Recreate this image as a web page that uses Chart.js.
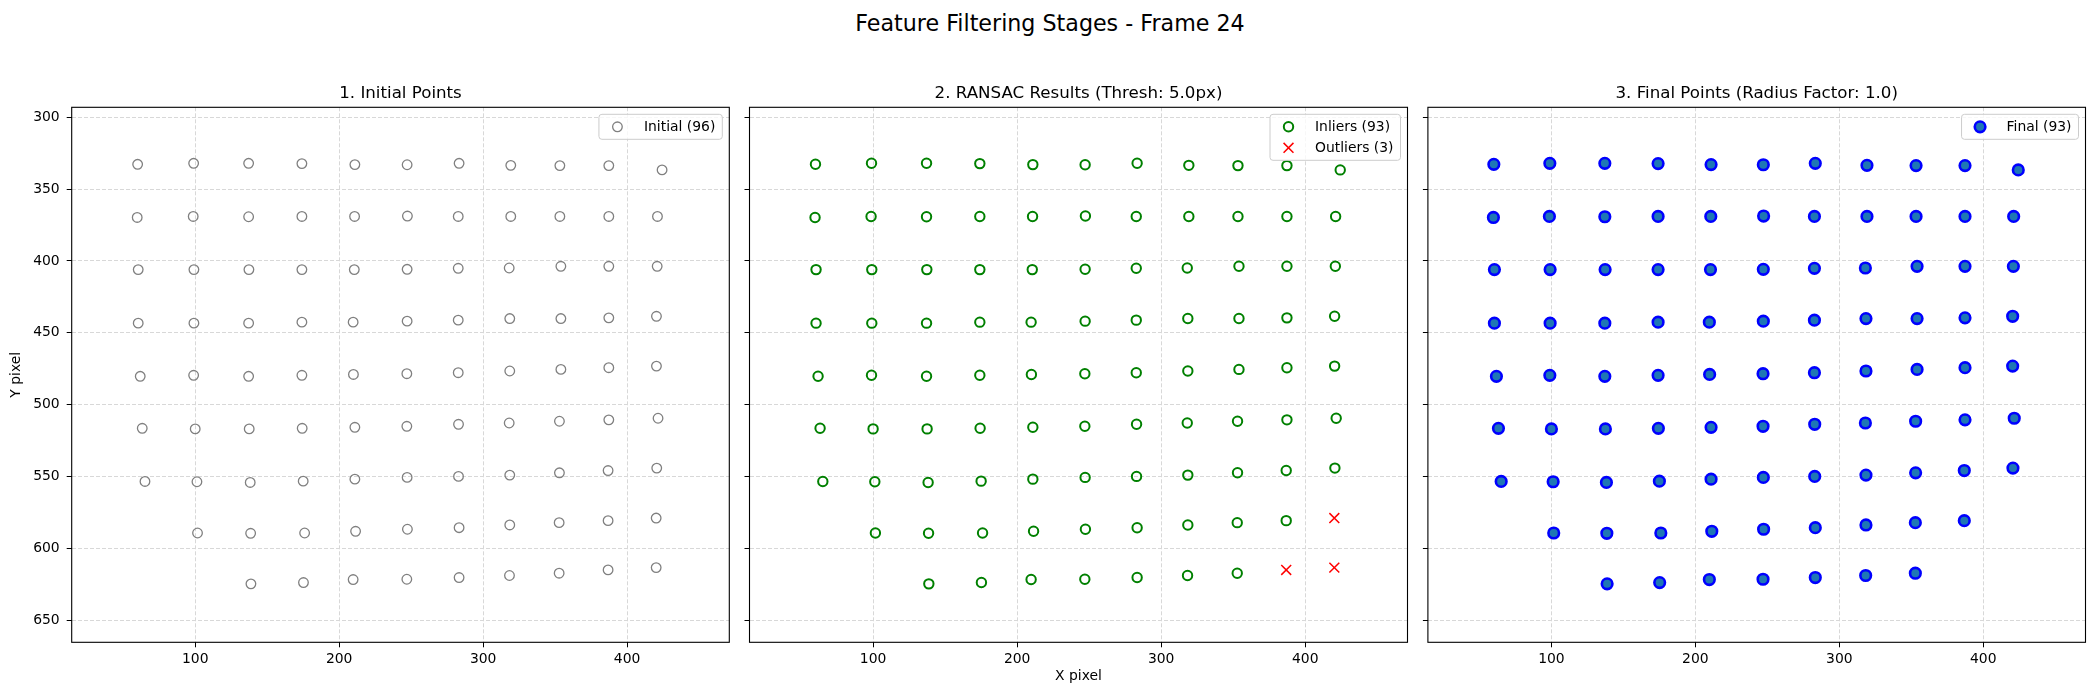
<!DOCTYPE html>
<html><head><meta charset="utf-8">
<script src="https://cdn.jsdelivr.net/npm/chart.js@4.4.0/dist/chart.umd.min.js"></script>
<style>
html,body{margin:0;padding:0;background:#fff;}
#wrap{position:relative;width:2100px;height:700px;overflow:hidden;font-family:'DejaVu Sans',sans-serif;background:#fff;}
canvas{position:absolute;top:0;}
#sup{position:absolute;left:0;width:2100px;top:10px;text-align:center;font-size:22.2px;line-height:26px;color:#000;}
</style></head><body>
<div id="wrap">
<div id="sup">Feature Filtering Stages - Frame 24</div>
<canvas id="c1" width="740" height="700" style="left:0px"></canvas>
<canvas id="c2" width="680" height="700" style="left:740px"></canvas>
<canvas id="c3" width="680" height="700" style="left:1420px"></canvas>
</div>
<script>
// ---------------- DATA ----------------
const suptitleText = 'Feature Filtering Stages - Frame 24';
const panelTitles = ['1. Initial Points', '2. RANSAC Results (Thresh: 5.0px)', '3. Final Points (Radius Factor: 1.0)'];
const xTickValues = [100, 200, 300, 400];
const yTickValues = [300, 350, 400, 450, 500, 550, 600, 650];
const xRange = [14.2, 471];
const yRange = [293, 665.5];

const initialX = [
  60.0, 98.9, 137.1, 174.1, 210.9, 247.2, 283.3, 319.2, 353.3, 387.3, 424.3,
  59.7, 98.6, 137.1, 174.1, 210.7, 247.4, 282.7, 319.2, 353.3, 387.3, 421.1,
  60.4, 99.1, 137.3, 174.1, 210.5, 247.2, 282.7, 318.1, 354.0, 387.3, 420.9,
  60.4, 99.1, 137.1, 174.1, 209.7, 247.2, 282.7, 318.5, 354.0, 387.3, 420.4,
  61.8, 98.9, 137.1, 174.1, 209.9, 247.0, 282.7, 318.5, 354.0, 387.3, 420.4,
  63.2, 100.0, 137.5, 174.3, 210.9, 247.0, 282.9, 318.1, 353.0, 387.3, 421.5,
  65.1, 101.2, 138.2, 175.0, 210.9, 247.2, 282.9, 318.5, 353.0, 386.8, 420.6,
  101.6, 138.5, 176.0, 211.4, 247.4, 283.3, 318.5, 352.8, 386.8, 420.2,
  138.7, 175.2, 209.7, 247.0, 283.3, 318.3, 352.8, 386.8, 420.2
];
const initialY = [
  332.7, 332.0, 332.0, 332.2, 332.9, 333.0, 332.0, 333.4, 333.6, 333.6, 336.6,
  369.7, 369.0, 369.2, 369.0, 369.0, 368.7, 369.0, 369.0, 369.0, 369.0, 369.0,
  406.0, 406.0, 406.0, 406.0, 406.0, 405.8, 405.1, 404.9, 403.7, 403.7, 403.7,
  443.3, 443.3, 443.3, 442.6, 442.6, 441.9, 441.2, 440.1, 440.1, 439.6, 438.5,
  480.3, 479.6, 480.3, 479.6, 479.0, 478.5, 477.8, 476.6, 475.5, 474.3, 473.2,
  516.5, 516.9, 516.9, 516.5, 515.8, 515.1, 513.7, 512.8, 511.6, 510.6, 509.5,
  553.5, 553.7, 554.2, 553.3, 551.9, 550.7, 550.0, 549.1, 547.5, 545.9, 544.2,
  589.4, 589.6, 589.4, 588.2, 586.8, 585.7, 583.8, 582.2, 580.8, 579.0,
  624.8, 623.9, 621.8, 621.6, 620.4, 619.0, 617.4, 615.1, 613.5
];
const outlierX = [420.2, 386.8, 420.2];
const outlierY = [579.0, 615.1, 613.5];

// ---------------- DERIVED ----------------
const FONT = "'DejaVu Sans', sans-serif";
const toPts = (xs, ys) => xs.map((x, i) => ({x: x, y: ys[i]}));
const isOutlier = (x, y) => outlierX.some((ox, k) => ox === x && outlierY[k] === y);
const keepIdx = initialX.map((x, i) => i).filter(i => !isOutlier(initialX[i], initialY[i]));
const inlierX = keepIdx.map(i => initialX[i]);
const inlierY = keepIdx.map(i => initialY[i]);
const finalX = inlierX.slice();
const finalY = inlierY.slice();

document.getElementById('sup').textContent = suptitleText;

// ---------------- PLUGINS ----------------
function drawMarker(ctx, style, r, bw, fill, stroke, x, y) {
  ctx.save();
  ctx.lineWidth = bw;
  ctx.strokeStyle = stroke;
  ctx.fillStyle = fill;
  ctx.beginPath();
  if (style === 'crossRot') {
    const d = r * Math.SQRT1_2;
    ctx.moveTo(x - d, y - d); ctx.lineTo(x + d, y + d);
    ctx.moveTo(x - d, y + d); ctx.lineTo(x + d, y - d);
    ctx.stroke();
  } else {
    ctx.arc(x, y, r, 0, Math.PI * 2);
    ctx.fill();
    if (bw > 0) ctx.stroke();
  }
  ctx.restore();
}

const framePlugin = {
  id: 'frameBox',
  afterDatasetsDraw(chart) {
    const ca = chart.chartArea, ctx = chart.ctx;
    ctx.save();
    ctx.strokeStyle = '#000';
    ctx.lineWidth = 1.1;
    ctx.setLineDash([]);
    ctx.strokeRect(ca.left, ca.top, ca.right - ca.left, ca.bottom - ca.top);
    ctx.restore();
  }
};

const insideLegendPlugin = {
  id: 'insideLegend',
  afterDraw(chart) {
    const ctx = chart.ctx, ca = chart.chartArea;
    const items = chart.data.datasets.map(ds => ({
      label: ds.label, style: ds.pointStyle, r: ds.pointRadius, bw: ds.pointBorderWidth,
      fill: ds.pointBackgroundColor, stroke: ds.pointBorderColor
    }));
    ctx.save();
    ctx.font = '13.9px ' + FONT;
    const tw = Math.max.apply(null, items.map(it => ctx.measureText(it.label).width));
    const w = 45 + tw + 7, h = items.length * 21 + 4;
    const right = ca.right - 7, top = ca.top + 7, left = right - w;
    const rr = 3;
    ctx.beginPath();
    ctx.moveTo(left + rr, top);
    ctx.lineTo(right - rr, top);
    ctx.arcTo(right, top, right, top + rr, rr);
    ctx.lineTo(right, top + h - rr);
    ctx.arcTo(right, top + h, right - rr, top + h, rr);
    ctx.lineTo(left + rr, top + h);
    ctx.arcTo(left, top + h, left, top + h - rr, rr);
    ctx.lineTo(left, top + rr);
    ctx.arcTo(left, top, left + rr, top, rr);
    ctx.closePath();
    ctx.fillStyle = 'rgba(255,255,255,0.8)';
    ctx.fill();
    ctx.strokeStyle = '#cccccc';
    ctx.lineWidth = 1;
    ctx.stroke();
    items.forEach((it, i) => {
      const cy = top + 2 + 10.5 + i * 21;
      drawMarker(ctx, it.style, it.r, it.bw, it.fill, it.stroke, left + 18.5, cy);
      ctx.fillStyle = '#000';
      ctx.textBaseline = 'middle';
      ctx.textAlign = 'left';
      ctx.font = '13.9px ' + FONT;
      ctx.fillText(it.label, left + 45, cy + 0.5);
    });
    ctx.restore();
  }
};

// ---------------- OPTIONS ----------------
const GRID = '#d8d8d8';
function makeOptions(cfg) {
  return {
    responsive: false, animation: false, devicePixelRatio: 1, events: [],
    layout: {padding: {left: 0, right: cfg.padRight, top: 0, bottom: 0}},
    plugins: {
      legend: {display: false},
      tooltip: {enabled: false},
      title: {
        display: true, text: cfg.title, fullSize: false, color: '#000',
        font: {family: FONT, size: 16.67, weight: 'normal', lineHeight: 1.2},
        padding: {top: 84, bottom: 3.3}
      }
    },
    scales: {
      x: {
        type: 'linear', position: 'bottom', min: xRange[0], max: xRange[1],
        afterBuildTicks: s => { s.ticks = xTickValues.map(v => ({value: v})); },
        afterFit: s => { s.height = 57.7; },
        grid: {color: GRID, lineWidth: 1, drawTicks: true, tickLength: 5, tickColor: '#000', tickWidth: 1, tickBorderDash: []},
        border: {display: false, dash: [4, 2]},
        ticks: {color: '#000', font: {family: FONT, size: 13.9}, padding: 4, maxRotation: 0, autoSkip: false},
        title: {display: !!cfg.xTitle, text: cfg.xTitle || '', color: '#000', font: {family: FONT, size: 13.9, lineHeight: 1.2}, padding: {top: 0, bottom: 15.6}}
      },
      y: {
        type: 'linear', position: 'left', reverse: true, min: yRange[0], max: yRange[1],
        afterBuildTicks: s => { s.ticks = yTickValues.map(v => ({value: v})); },
        afterFit: s => { s.width = cfg.yWidth; },
        grid: {color: GRID, lineWidth: 1, drawTicks: true, tickLength: 5, tickColor: '#000', tickWidth: 1, tickBorderDash: []},
        border: {display: false, dash: [4, 2]},
        ticks: {display: cfg.yLabels, color: '#000', font: {family: FONT, size: 13.9}, padding: 7, autoSkip: false},
        title: {display: !!cfg.yTitle, text: cfg.yTitle || '', color: '#000', font: {family: FONT, size: 13.9, lineHeight: 1.2}, padding: {top: 7.7, bottom: 0}}
      }
    }
  };
}

function ds(label, xs, ys, style, r, bw, fill, stroke) {
  return {
    label: label, data: toPts(xs, ys), showLine: false,
    pointStyle: style, pointRadius: r, pointHoverRadius: r, pointBorderWidth: bw,
    pointBackgroundColor: fill, pointBorderColor: stroke,
    backgroundColor: fill, borderColor: stroke
  };
}

new Chart(document.getElementById('c1'), {
  type: 'scatter',
  data: {datasets: [ds('Initial (' + initialX.length + ')', initialX, initialY, 'circle', 4.8, 1.3, 'rgba(0,0,0,0)', '#808080')]},
  options: makeOptions({title: panelTitles[0], padRight: 10.7, yWidth: 71.7, yLabels: true, yTitle: 'Y pixel'}),
  plugins: [framePlugin, insideLegendPlugin]
});

new Chart(document.getElementById('c2'), {
  type: 'scatter',
  data: {datasets: [
    ds('Inliers (' + inlierX.length + ')', inlierX, inlierY, 'circle', 4.7, 2, 'rgba(0,0,0,0)', '#008000'),
    ds('Outliers (' + outlierX.length + ')', outlierX, outlierY, 'crossRot', 7, 1.5, '#ff0000', '#ff0000')
  ]},
  options: makeOptions({title: panelTitles[1], padRight: 12.5, yWidth: 9.5, yLabels: false, xTitle: 'X pixel'}),
  plugins: [framePlugin, insideLegendPlugin]
});

new Chart(document.getElementById('c3'), {
  type: 'scatter',
  data: {datasets: [ds('Final (' + finalX.length + ')', finalX, finalY, 'circle', 5.3, 2.6, '#1f77b4', '#0000ff')]},
  options: makeOptions({title: panelTitles[2], padRight: 14.5, yWidth: 7.7, yLabels: false}),
  plugins: [framePlugin, insideLegendPlugin]
});
</script>
</body></html>
